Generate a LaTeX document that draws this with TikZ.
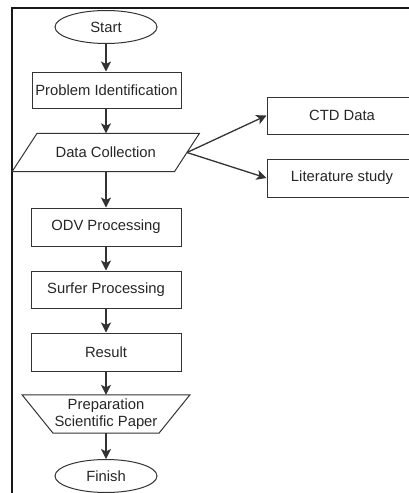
\documentclass[tikz,border=0pt]{standalone}
\usepackage{fontspec}
\setmainfont{Liberation Sans}
\usetikzlibrary{shapes.geometric,arrows.meta}
\begin{document}
\begin{tikzpicture}[x=1pt,y=-1pt,
  every node/.style={font=\fontsize{14.8}{17.5}\selectfont, text=black!85, inner sep=0pt},
  proc/.style={draw=black!80, line width=1pt, rectangle, minimum width=150pt, minimum height=37pt},
  term/.style={draw=black!80, line width=1pt, ellipse, minimum width=102pt, minimum height=33pt},
  ghost/.style={rectangle, minimum height=38pt, align=center},
  shapeline/.style={draw=black!80, line width=1pt, line join=miter},
  flow/.style={draw=black!80, line width=1.3pt, -{Stealth[length=10pt,width=10pt,inset=2.5pt]}},
  frameline/.style={line width=2pt, draw=black!90, line join=miter}]
  \useasboundingbox (0,0) rectangle (409,493);
  \clip (0,0) rectangle (409,493);

  % frame
  \draw[frameline] (410,8.3) -- (11.7,8.3) -- (11.7,495);

  % nodes
  \node[term] (start) at (106,27) {Start};
  \node[proc, minimum width=149pt, minimum height=36pt] (prob) at (106.5,90) {Problem Identification};
  \node[ghost, minimum width=162pt] (data) at (105.75,152.5) {Data Collection};
  \draw[shapeline] ([xshift=12.5pt]data.north west) -- ([xshift=12.5pt]data.north east)
                   -- ([xshift=-12.5pt]data.south east) -- ([xshift=-12.5pt]data.south west) -- cycle;
  \node[proc] (ctd) at (342,115.5) {CTD Data};
  \node[proc, minimum height=38pt] (lit) at (342,178) {Literature study};
  \node[proc, minimum height=38pt] (odv) at (106,227) {ODV Processing};
  \node[proc] (surfer) at (106,289.5) {Surfer Processing};
  \node[proc, minimum height=38pt] (result) at (106,352) {Result};
  \node[ghost, minimum width=136.5pt] (prep) at (106,414) {Preparation\\Scientific Paper};
  \draw[shapeline] ([xshift=-15.5pt]prep.north west) -- ([xshift=15.5pt]prep.north east)
                   -- ([xshift=-15.5pt]prep.south east) -- ([xshift=15.5pt]prep.south west) -- cycle;
  \node[term] (finish) at (106,476) {Finish};

  % connectors
  \draw[flow] (start.south) -- (start.south |- prob.north);
  \draw[flow] (prob.south -| start.south) -- (start.south |- data.north);
  \draw[flow] (data.south -| start.south) -- (start.south |- odv.north);
  \draw[flow] (data.east) -- (ctd.west);
  \draw[flow] (data.east) -- (lit.west);
  \draw[flow] (odv.south) -- (surfer.north);
  \draw[flow] (surfer.south) -- (result.north);
  \draw[flow] (result.south) -- (prep.north);
  \draw[flow] (prep.south) -- (finish.north);
\end{tikzpicture}
\end{document}
